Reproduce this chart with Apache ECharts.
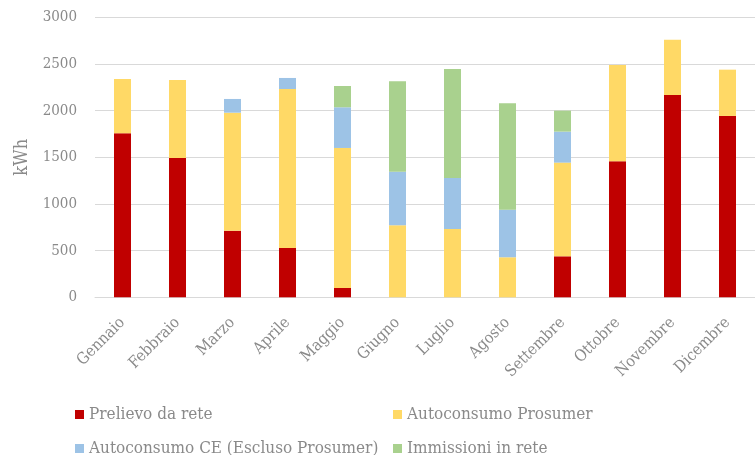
<!DOCTYPE html>
<html>
<head>
<meta charset="utf-8">
<script src="https://cdn.jsdelivr.net/npm/echarts@6/dist/echarts.min.js"></script>
<style>
  html, body { margin: 0; padding: 0; background: #fff; }
  #chart { width: 755px; height: 455px; }
</style>
</head>
<body>
<div id="chart"></div>
<script>
// dati mensili (kWh)
var mesi = ['Gennaio', 'Febbraio', 'Marzo', 'Aprile', 'Maggio', 'Giugno',
            'Luglio', 'Agosto', 'Settembre', 'Ottobre', 'Novembre', 'Dicembre'];
var prelievo = [1757, 1493, 714, 528, 100, 0, 0, 0, 439, 1457, 2168, 1943];
var autoProsumer = [582, 835, 1264, 1704, 1500, 771, 732, 429, 1004, 1032, 592, 496];
var autoCE = [0, 0, 147, 118, 436, 575, 546, 510, 332, 0, 0, 0];
var immissioni = [0, 0, 0, 0, 228, 968, 1168, 1140, 225, 0, 0, 0];
var yTicks = [0, 500, 1000, 1500, 2000, 2500, 3000];

var font = '"DejaVu Serif Condensed", "DejaVu Serif", serif';
var grigio = '#8a8a8a';

function serie(nome, dati, colore) {
    return {
        name: nome,
        type: 'bar',
        stack: 'tot',
        data: dati,
        barWidth: 17,
        itemStyle: { color: colore },
        emphasis: { disabled: true }
    };
}

// una legenda per voce, per avere le due colonne come nell'originale
function voceLegenda(nome, x, y) {
    return {
        left: x, top: y,
        padding: 0,
        itemWidth: 9, itemHeight: 9,
        icon: 'rect',
        data: [nome],
        textStyle: { fontFamily: font, fontSize: 17, color: grigio }
    };
}

var chart = echarts.init(document.getElementById('chart'));
var option = {
    animation: false,
    textStyle: { fontFamily: font },
    grid: { left: 95, right: -12, top: 17.3, bottom: 157.7 },
    legend: [
        voceLegenda('Prelievo da rete', 75, 406),
        voceLegenda('Autoconsumo Prosumer', 393, 406),
        voceLegenda('Autoconsumo CE (Escluso Prosumer)', 75, 440),
        voceLegenda('Immissioni in rete', 393, 440)
    ],
    xAxis: {
        type: 'category',
        data: mesi,
        axisLine: { lineStyle: { color: '#d9d9d9' } },
        axisTick: { show: false },
        axisLabel: {
            rotate: 45, interval: 0, margin: 23,
            fontFamily: font, fontSize: 16, color: grigio
        }
    },
    yAxis: {
        type: 'value',
        min: yTicks[0],
        max: yTicks[yTicks.length - 1],
        interval: 500,
        name: 'kWh',
        nameLocation: 'middle',
        nameGap: 64,
        nameTextStyle: { fontFamily: font, fontSize: 18, color: grigio },
        axisLine: { show: false },
        axisTick: { show: false },
        axisLabel: {
            fontFamily: font, fontSize: 15, color: grigio, margin: 18,
            formatter: function (v) { return String(v); }
        },
        splitLine: { lineStyle: { color: '#d9d9d9', width: 1 } }
    },
    series: [
        serie('Prelievo da rete', prelievo, '#C00000'),
        serie('Autoconsumo Prosumer', autoProsumer, '#FFD966'),
        serie('Autoconsumo CE (Escluso Prosumer)', autoCE, '#9DC3E6'),
        serie('Immissioni in rete', immissioni, '#A9D18E')
    ]
};
chart.setOption(option);
</script>
</body>
</html>
